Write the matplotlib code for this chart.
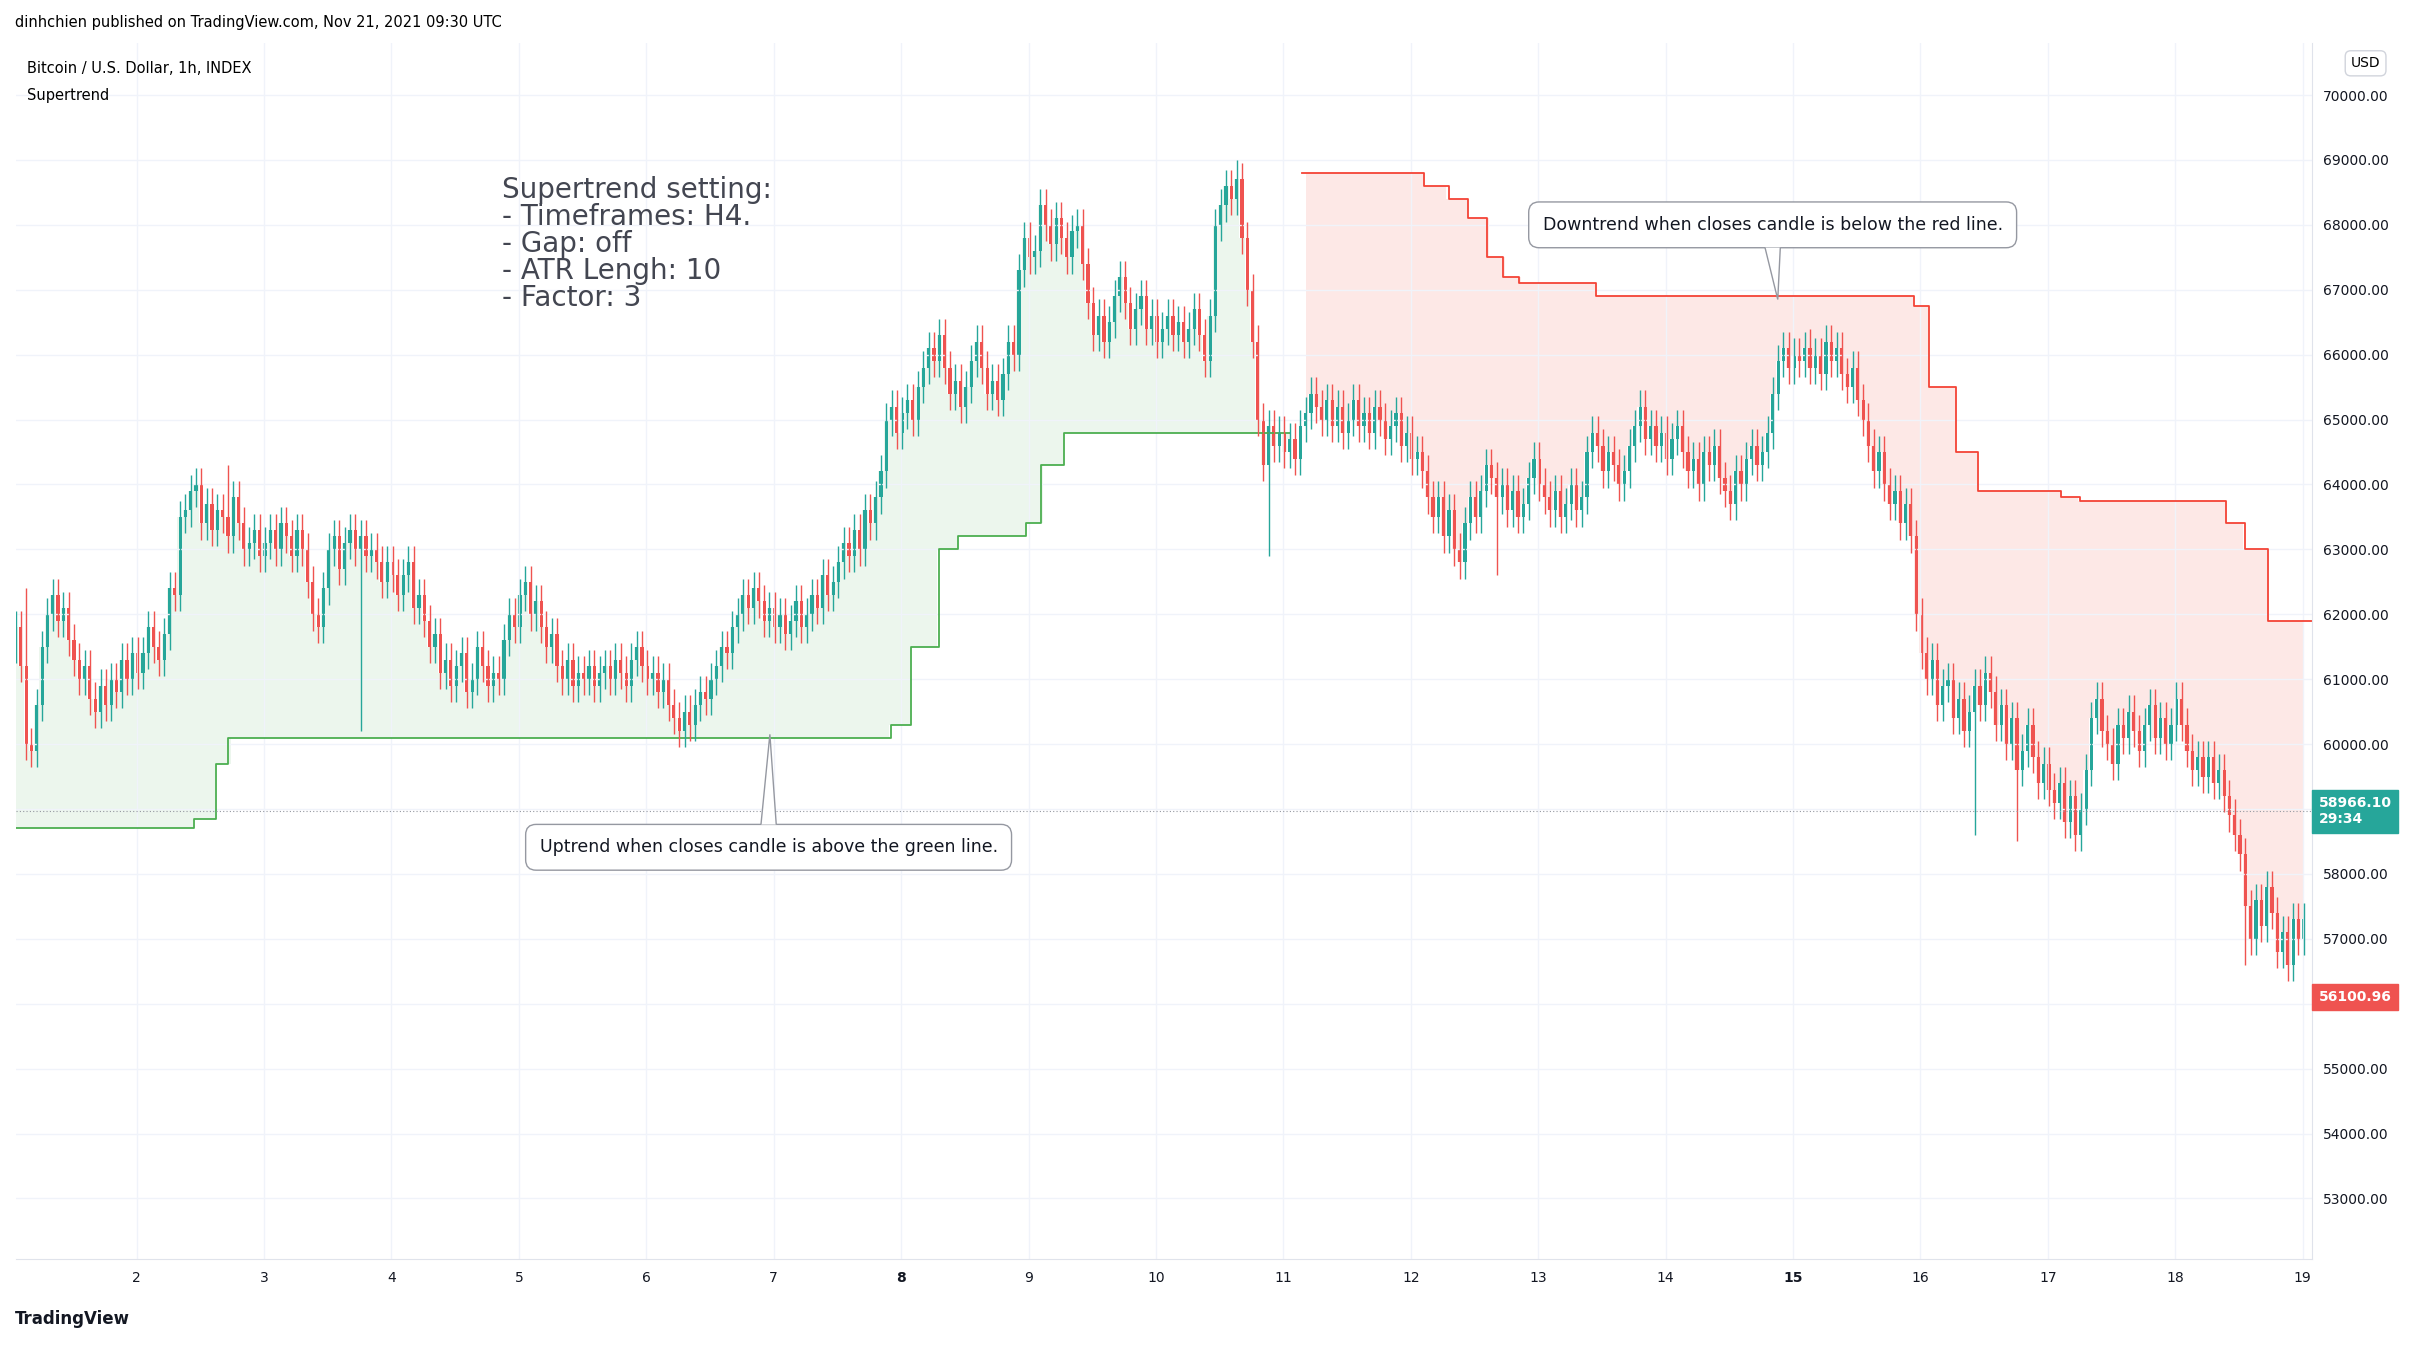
import matplotlib
matplotlib.use("Agg")
import matplotlib.pyplot as plt
from matplotlib.patches import Polygon
import numpy as np

start_day = 1.05
closes = [
61.8,61.2,60.0,59.9,60.6,61.5,62.0,62.3,61.9,62.1,61.6,61.3,61.0,61.2,60.7,60.5,60.9,60.6,61.0,60.8,61.3,61.0,61.4,61.1,
61.4,61.8,61.5,61.3,61.7,62.4,62.3,63.5,63.6,63.9,64.0,63.4,63.7,63.3,63.6,63.5,63.2,63.8,63.4,63.0,63.1,63.3,62.9,63.1,
63.3,63.0,63.4,63.2,62.9,63.3,63.0,62.5,62.0,61.8,62.4,63.0,63.2,62.7,63.1,63.3,63.0,63.2,62.9,63.0,62.8,62.5,62.8,62.6,
62.3,62.6,62.8,62.1,62.3,61.9,61.5,61.7,61.1,61.3,60.9,61.2,61.4,60.8,61.0,61.5,61.2,60.9,61.1,61.0,61.6,62.0,61.8,62.3,
62.5,62.0,62.2,61.8,61.5,61.7,61.2,61.0,61.3,60.9,61.1,61.0,61.2,60.9,61.1,61.2,61.0,61.3,61.1,60.9,61.3,61.5,61.2,61.0,
61.1,60.8,61.0,60.6,60.4,60.2,60.5,60.3,60.6,60.8,60.7,61.0,61.2,61.5,61.4,61.8,62.0,62.3,62.1,62.4,62.2,61.9,62.1,61.8,
62.0,61.7,61.9,62.2,61.8,62.0,62.3,62.1,62.6,62.3,62.5,62.8,63.1,62.9,63.3,63.0,63.6,63.4,63.8,64.2,65.0,65.2,64.8,65.1,
65.3,65.0,65.5,65.8,66.1,65.9,66.3,65.8,65.4,65.6,65.2,65.5,65.9,66.2,65.8,65.4,65.6,65.3,65.7,66.2,66.0,67.3,67.8,67.5,
67.6,68.3,68.0,67.7,68.1,67.8,67.5,67.9,68.0,67.4,66.8,66.3,66.6,66.2,66.5,66.9,67.2,66.8,66.4,66.7,66.9,66.4,66.6,66.2,
66.4,66.6,66.3,66.5,66.2,66.4,66.7,66.3,65.9,66.6,68.0,68.3,68.6,68.4,68.7,67.8,67.0,66.2,65.0,64.3,64.9,64.6,64.8,64.5,
64.7,64.4,64.9,65.1,65.4,65.2,65.0,65.3,64.9,65.2,64.8,65.0,65.3,64.9,65.1,64.8,65.2,65.0,64.7,64.9,65.1,64.6,64.8,64.4,
64.5,64.2,63.8,63.5,63.8,63.2,63.6,63.0,62.8,63.4,63.8,63.5,63.9,64.3,64.1,63.8,64.0,63.6,63.9,63.5,63.7,64.1,64.4,64.0,
63.8,63.6,63.9,63.5,63.7,64.0,63.6,63.8,64.5,64.8,64.6,64.2,64.5,64.3,64.0,64.2,64.6,64.9,65.2,64.7,64.9,64.6,64.8,64.4,
64.7,64.9,64.5,64.2,64.4,64.0,64.5,64.3,64.6,64.1,63.9,63.7,64.2,64.0,64.4,64.6,64.3,64.5,64.8,65.4,65.9,66.1,65.8,66.0,
65.9,66.1,65.8,66.0,65.7,66.2,65.9,66.1,65.7,65.5,65.8,65.3,65.0,64.6,64.2,64.5,64.0,63.7,63.9,63.4,63.7,63.2,62.0,61.4,
61.0,61.3,60.6,60.9,61.0,60.4,60.7,60.2,60.5,60.9,60.6,61.1,60.8,60.3,60.6,60.0,60.4,59.6,59.9,60.3,59.8,59.4,59.7,59.3,
59.1,59.4,58.8,59.2,58.6,59.0,59.6,60.4,60.7,60.2,60.0,59.7,60.3,60.1,60.5,60.2,59.9,60.3,60.6,60.1,60.4,60.0,60.3,60.7,
60.3,59.9,59.6,59.8,59.5,59.8,59.4,59.6,59.2,58.9,58.6,58.3,57.5,57.0,57.6,57.2,57.8,57.4,56.8,57.1,56.6,57.3,57.0,57.3,
]
first_open = 61.5
big_wicks_low = {65: 60.2, 236: 62.9, 279: 62.6, 369: 58.6, 377: 58.5, 420: 56.6}
big_wicks_high = {230: 69.0, 2: 62.4, 40: 64.3, 338: 66.4}

up_steps = [(1.05, 58.7), (2.45, 58.85), (2.62, 59.7), (2.72, 60.1), (7.92, 60.3),
            (8.08, 61.5), (8.3, 63.0), (8.45, 63.2), (8.98, 63.4), (9.1, 64.3), (9.28, 64.8)]
up_end = 11.05
dn_steps = [(11.15, 68.8), (12.1, 68.6), (12.3, 68.4), (12.45, 68.1), (12.6, 67.5),
            (12.72, 67.2), (12.85, 67.1), (13.45, 66.9), (15.95, 66.75), (16.07, 65.5),
            (16.28, 64.5), (16.45, 63.9), (17.1, 63.8), (17.25, 63.75), (18.4, 63.4),
            (18.55, 63.0), (18.73, 61.9)]
dn_end = 19.07

last_price = 58966.10
last_low = 56100.96
hidden_ticks = [56, 59]

GREEN = "#26a69a"; RED = "#ef5350"
fig = plt.figure(figsize=(24.31, 13.47), dpi=100)
ax = fig.add_axes([0.0064, 0.065, 0.9445, 0.903])
c = np.array(closes)
o = np.concatenate([[first_open], c[:-1]])
x = start_day + np.arange(len(c)) / 24.0
hi = np.maximum(o, c) + 0.25
lo = np.minimum(o, c) - 0.25
for k, v in big_wicks_low.items(): lo[k] = v
for k, v in big_wicks_high.items(): hi[k] = v

def step_series(steps, end):
    xs = [s[0] for s in steps] + [end]
    ys = [s[1] for s in steps] + [steps[-1][1]]
    return np.array(xs), np.array(ys)

def level_at(steps, t):
    lv = steps[0][1]
    for s, v in steps:
        if t >= s: lv = v
    return lv

ux, uy = step_series(up_steps, up_end)
dx, dy = step_series(dn_steps, dn_end)
mu = x <= up_end
md = x >= dn_steps[0][0]
ax.fill_between(x[mu], [level_at(up_steps, t) for t in x[mu]], c[mu], step="mid",
                color="#4caf50", alpha=0.10, lw=0)
ax.fill_between(x[md], [level_at(dn_steps, t) for t in x[md]], c[md], step="mid",
                color="#f44336", alpha=0.12, lw=0)
ax.step(ux, uy, where="post", color="#4caf50", lw=1.3)
ax.step(dx, dy, where="post", color="#f44336", lw=1.3)

cols = np.where(c >= o, GREEN, RED)
ax.vlines(x, lo, hi, colors=cols, lw=1.0)
ax.bar(x, np.maximum(np.abs(c - o), 0.03), bottom=np.minimum(o, c), width=0.6/24, color=cols, lw=0)

ax.axhline(last_price/1000, color="#9598a1", lw=0.8, ls=(0, (1, 2)))
ax.set_xlim(1.05, 19.07)
ax.set_ylim(52.06, 70.8)
ax.yaxis.tick_right()
yt = np.arange(53, 71, 1)
ax.set_yticks(yt)
ax.set_yticklabels(["" if v in hidden_ticks else f"{v*1000:.2f}" for v in yt], fontsize=10, color="#131722")
xt = list(range(2, 20))
ax.set_xticks(xt)
ax.set_xticklabels([str(d) for d in xt], fontsize=10, color="#131722")
for lab in ax.get_xticklabels():
    if lab.get_text() in ("8", "15"):
        lab.set_fontweight("bold")
ax.tick_params(length=0, pad=8)
ax.grid(color="#f0f3fa", lw=1)
for s in ax.spines.values(): s.set_color("#e0e3eb")
ax.spines["top"].set_visible(False); ax.spines["left"].set_visible(False)

def badge(y, txt, color, sub=None):
    ax.text(1.003, (y - 52.06) / (70.8 - 52.06), txt + ("" if sub is None else "\n" + sub),
            transform=ax.transAxes, fontsize=10, color="white", fontweight="bold",
            va="center", ha="left", zorder=10,
            bbox=dict(boxstyle="square,pad=0.45", fc=color, ec=color))
badge(last_price/1000, f"{last_price:.2f}", GREEN, "29:34")
badge(last_low/1000, f"{last_low:.2f}", RED)

ax.text(4.87, 68.75, "Supertrend setting:\n- Timeframes: H4.\n- Gap: off\n- ATR Lengh: 10\n- Factor: 3",
        fontsize=20, color="#434651", va="top", ha="left", linespacing=0.95)

def callout(cx, cy, txt, px, py, below):
    ax.text(cx, cy, txt, fontsize=12.5, color="#131722", ha="center", va="center", zorder=6,
            bbox=dict(boxstyle="round,pad=0.8,rounding_size=0.6", fc="white", ec="#9598a1", lw=1))
    edge = cy + (0.35 if below else -0.35)
    ax.add_patch(Polygon([[cx - 0.06, edge], [px, py], [cx + 0.06, edge]], closed=False,
                         fill=True, fc="white", ec="#9598a1", lw=1, zorder=7))
callout(6.96, 58.41, "Uptrend when closes candle is above the green line.", 6.97, 60.15, True)
callout(14.84, 68.0, "Downtrend when closes candle is below the red line.", 14.88, 66.85, False)

ax.text(0.005, 0.985, "Bitcoin / U.S. Dollar, 1h, INDEX", transform=ax.transAxes, fontsize=10.5, va="top")
ax.text(0.005, 0.963, "Supertrend", transform=ax.transAxes, fontsize=10.5, va="top")
fig.text(0.006, 0.983, "dinhchien published on TradingView.com, Nov 21, 2021 09:30 UTC", fontsize=10.5, va="center")
fig.text(0.006, 0.014, "TradingView", fontsize=12, va="bottom", fontweight="bold", color="#131722")
fig.text(0.967, 0.953, "USD", fontsize=10, ha="left", va="center",
         bbox=dict(boxstyle="round,pad=0.4", fc="white", ec="#d1d4dc"))
fig.savefig("out.png", dpi=100, facecolor="white")
